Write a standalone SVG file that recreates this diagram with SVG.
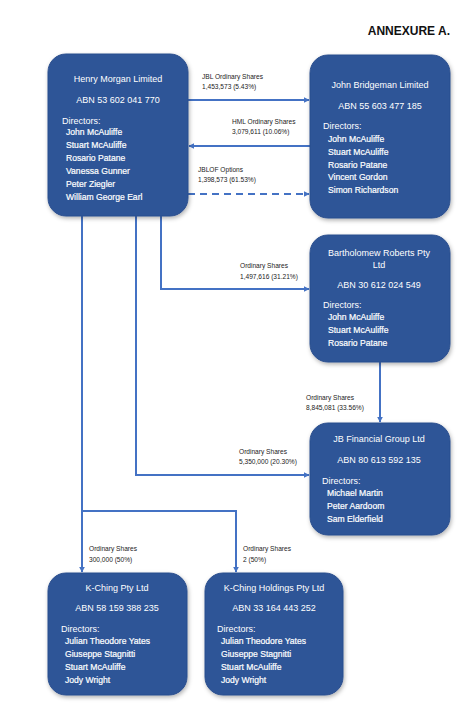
<svg xmlns="http://www.w3.org/2000/svg" width="468" height="724" viewBox="0 0 468 724">
<style>
.box{fill:#2F5597;stroke:#2B4F8E;stroke-width:1;filter:url(#sh)}
.t{font-family:"Liberation Sans",Arial,sans-serif;fill:#fff;font-size:9px}
.c{text-anchor:middle}
.n{font-size:8.6px;stroke:#fff;stroke-width:0.2}
.lbl{font-family:"Liberation Sans",Arial,sans-serif;fill:#222;font-size:6.6px}
.ln{fill:none;stroke:#4472C4;stroke-width:2}
.dash{stroke-dasharray:7 5}
</style>
<defs>
<filter id="sh" x="-10%" y="-10%" width="125%" height="125%">
<feDropShadow dx="1" dy="2" stdDeviation="2" flood-color="#000" flood-opacity="0.3"/>
</filter>
<marker id="ah" viewBox="0 0 10 10" refX="9" refY="5" markerWidth="6" markerHeight="6" markerUnits="userSpaceOnUse" orient="auto">
<path d="M0,0 L10,5 L0,10 z" fill="#4472C4"/>
</marker>
</defs>
<rect width="468" height="724" fill="#fff"/>
<text x="450" y="35" text-anchor="end" font-family="'Liberation Sans',Arial,sans-serif" font-weight="bold" font-size="12" fill="#111">ANNEXURE A.</text>

<g id="connectors">
<path class="ln" d="M188,100 H309" marker-end="url(#ah)"/>
<path class="ln" d="M310,146 H189" marker-end="url(#ah)"/>
<path class="ln dash" d="M188,194 H309" marker-end="url(#ah)"/>
<path class="ln" d="M161,216 V289 H309" marker-end="url(#ah)"/>
<path class="ln" d="M380,362 V422" marker-end="url(#ah)"/>
<path class="ln" d="M136,216 V475 H309" marker-end="url(#ah)"/>
<path class="ln" d="M82,216 V572" marker-end="url(#ah)"/>
<path class="ln" d="M82,511 H236 V572" marker-end="url(#ah)"/>
<text class="lbl" x="202" y="79">JBL Ordinary Shares</text>
<text class="lbl" x="202" y="89">1,453,573 (5.43%)</text>
<text class="lbl" x="232" y="124">HML Ordinary Shares</text>
<text class="lbl" x="232" y="134">3,079,611 (10.06%)</text>
<text class="lbl" x="198" y="172">JBLOF Options</text>
<text class="lbl" x="198" y="182">1,398,573 (61.53%)</text>
<text class="lbl" x="240" y="268">Ordinary Shares</text>
<text class="lbl" x="240" y="279">1,497,616 (31.21%)</text>
<text class="lbl" x="306" y="400">Ordinary Shares</text>
<text class="lbl" x="306" y="410">8,845,081 (33.56%)</text>
<text class="lbl" x="239" y="454">Ordinary Shares</text>
<text class="lbl" x="239" y="464">5,350,000 (20.30%)</text>
<text class="lbl" x="89" y="551">Ordinary Shares</text>
<text class="lbl" x="89" y="562">300,000 (50%)</text>
<text class="lbl" x="243" y="551">Ordinary Shares</text>
<text class="lbl" x="243" y="562">2 (50%)</text>
</g>

<g id="henry-morgan">
<rect class="box" x="48" y="54" width="140" height="162" rx="18"/>
<text class="t c" x="118" y="82">Henry Morgan Limited</text>
<text class="t c" x="118" y="103">ABN 53 602 041 770</text>
<text class="t" x="62" y="124">Directors:</text>
<text class="t n" x="66" y="135">John McAuliffe</text>
<text class="t n" x="66" y="148">Stuart McAuliffe</text>
<text class="t n" x="66" y="161">Rosario Patane</text>
<text class="t n" x="66" y="174">Vanessa Gunner</text>
<text class="t n" x="66" y="187">Peter Ziegler</text>
<text class="t n" x="66" y="200">William George Earl</text>
</g>

<g id="john-bridgeman">
<rect class="box" x="310" y="55" width="140" height="163" rx="18"/>
<text class="t c" x="380" y="88">John Bridgeman Limited</text>
<text class="t c" x="380" y="109">ABN 55 603 477 185</text>
<text class="t" x="323" y="129">Directors:</text>
<text class="t n" x="328" y="142">John McAuliffe</text>
<text class="t n" x="328" y="155">Stuart McAuliffe</text>
<text class="t n" x="328" y="168">Rosario Patane</text>
<text class="t n" x="328" y="180">Vincent Gordon</text>
<text class="t n" x="328" y="193">Simon Richardson</text>
</g>

<g id="bartholomew-roberts">
<rect class="box" x="310" y="235" width="140" height="127" rx="18"/>
<text class="t c" x="379" y="256">Bartholomew Roberts Pty</text>
<text class="t c" x="379" y="268">Ltd</text>
<text class="t c" x="379" y="288">ABN 30 612 024 549</text>
<text class="t" x="323" y="308">Directors:</text>
<text class="t n" x="328" y="320">John McAuliffe</text>
<text class="t n" x="328" y="333">Stuart McAuliffe</text>
<text class="t n" x="328" y="346">Rosario Patane</text>
</g>

<g id="jb-financial">
<rect class="box" x="310" y="423" width="140" height="112" rx="18"/>
<text class="t c" x="379" y="442">JB Financial Group Ltd</text>
<text class="t c" x="379" y="463">ABN 80 613 592 135</text>
<text class="t" x="322" y="484">Directors:</text>
<text class="t n" x="327" y="496">Michael Martin</text>
<text class="t n" x="327" y="509">Peter Aardoom</text>
<text class="t n" x="327" y="522">Sam Elderfield</text>
</g>

<g id="k-ching">
<rect class="box" x="48" y="573" width="139" height="122" rx="18"/>
<text class="t c" x="117" y="591">K-Ching Pty Ltd</text>
<text class="t c" x="117" y="611">ABN 58 159 388 235</text>
<text class="t" x="61" y="632">Directors:</text>
<text class="t n" x="65" y="644">Julian Theodore Yates</text>
<text class="t n" x="65" y="657">Giuseppe Stagnitti</text>
<text class="t n" x="65" y="670">Stuart McAuliffe</text>
<text class="t n" x="65" y="683">Jody Wright</text>
</g>

<g id="k-ching-holdings">
<rect class="box" x="205" y="573" width="138" height="122" rx="18"/>
<text class="t c" x="274" y="591">K-Ching Holdings Pty Ltd</text>
<text class="t c" x="274" y="611">ABN 33 164 443 252</text>
<text class="t" x="217" y="632">Directors:</text>
<text class="t n" x="221" y="644">Julian Theodore Yates</text>
<text class="t n" x="221" y="657">Giuseppe Stagnitti</text>
<text class="t n" x="221" y="670">Stuart McAuliffe</text>
<text class="t n" x="221" y="683">Jody Wright</text>
</g>
</svg>
